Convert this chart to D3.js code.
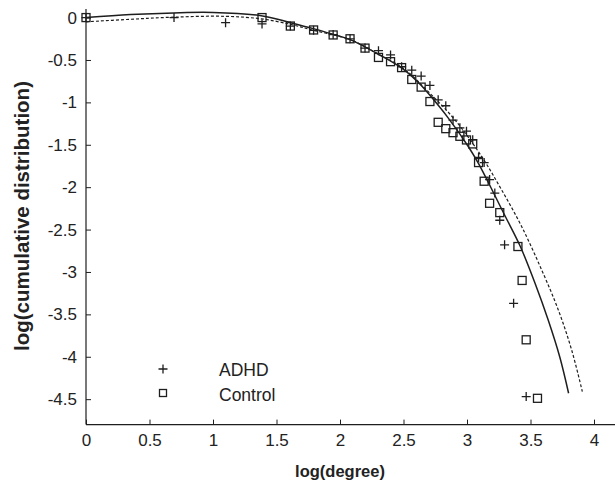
<!DOCTYPE html>
<html>
<head>
<meta charset="utf-8">
<script src="https://cdn.jsdelivr.net/npm/d3@7"></script>
<style>
  body { margin: 0; background: #fff; }
  svg { display: block; font-family: "Liberation Sans", Arial, sans-serif; }
  .tick text { fill: #222; font-size: 17px; }
  .title { font-weight: bold; fill: #222; }
</style>
</head>
<body>
<script>
var width = 615, height = 487;

// log(degree) values for each degree k (natural log)
var adhdX = [0, 0.693, 1.099, 1.386, 1.609, 1.792, 1.946, 2.079, 2.197, 2.303, 2.398, 2.485, 2.565,
             2.639, 2.708, 2.773, 2.833, 2.890, 2.944, 2.996, 3.045, 3.091, 3.135, 3.178, 3.219,
             3.258, 3.296, 3.367, 3.466];
var adhdY = [0, 0, -0.06, -0.075, -0.1, -0.15, -0.2, -0.25, -0.36, -0.39, -0.44, -0.58, -0.62,
             -0.69, -0.8, -0.97, -1.04, -1.21, -1.3, -1.34, -1.44, -1.65, -1.71, -1.91, -2.07,
             -2.39, -2.68, -3.37, -4.47];

var controlX = [0, 1.386, 1.609, 1.792, 1.946, 2.079, 2.197, 2.303, 2.398, 2.485, 2.565, 2.639,
                2.708, 2.773, 2.833, 2.890, 2.944, 2.996, 3.045, 3.091, 3.135, 3.178, 3.258,
                3.401, 3.434, 3.466, 3.555];
var controlY = [0, 0, -0.1, -0.146, -0.205, -0.25, -0.36, -0.47, -0.52, -0.59, -0.73, -0.82,
                -0.99, -1.235, -1.31, -1.357, -1.4, -1.443, -1.49, -1.71, -1.93, -2.19, -2.3,
                -2.7, -3.1, -3.8, -4.49];

// fitted curves
var fitSolidX = [0, 0.35, 0.69, 1.0, 1.39, 1.61, 1.79, 1.95, 2.08, 2.3, 2.5, 2.64, 2.71, 2.85,
                 3.01, 3.09, 3.19, 3.3, 3.42, 3.535, 3.64, 3.73, 3.8];
var fitSolidY = [0, 0.035, 0.055, 0.06, 0.02, -0.06, -0.13, -0.2, -0.26, -0.43, -0.61, -0.8, -0.92,
                 -1.18, -1.52, -1.72, -2.01, -2.34, -2.7, -3.13, -3.57, -4.0, -4.43];

var fitDashX = [0, 0.35, 0.69, 1.09, 1.38, 1.61, 1.79, 2.08, 2.3, 2.5, 2.695, 2.906, 3.116,
                3.273, 3.431, 3.588, 3.719, 3.824, 3.908];
var fitDashY = [-0.05, -0.02, 0.005, 0.015, -0.015, -0.08, -0.15, -0.26, -0.43, -0.6, -0.874, -1.208,
                -1.64, -2.033, -2.466, -2.976, -3.448, -3.92, -4.41];

var xTicks = [0, 0.5, 1, 1.5, 2, 2.5, 3, 3.5, 4];
var yTicks = [0, -0.5, -1, -1.5, -2, -2.5, -3, -3.5, -4, -4.5];
var legendNames = ["ADHD", "Control"];

var ink = "#1e1e1e";
var fmt = function(d){ return String(d); };   // plain hyphen minus, as in the figure

var x = d3.scaleLinear().domain([0, 4]).range([86, 594]);
var y = d3.scaleLinear().domain([0.1, -4.8]).range([9.1, 424.6]);

var svg = d3.select("body").append("svg")
    .attr("width", width)
    .attr("height", height);

// axes
var xAxis = svg.append("g")
    .attr("transform", "translate(0," + y(-4.8) + ")")
    .call(d3.axisBottom(x).tickValues(xTicks).tickSizeInner(-5).tickSizeOuter(0).tickPadding(9)
          .tickFormat(fmt));
xAxis.select(".domain").remove();
xAxis.selectAll(".tick line").attr("stroke", ink);

var yAxis = svg.append("g")
    .attr("transform", "translate(" + x(0) + ",0)")
    .call(d3.axisLeft(y).tickValues(yTicks).tickSizeInner(-5).tickSizeOuter(0).tickPadding(9)
          .tickFormat(fmt));
yAxis.select(".domain").remove();
yAxis.selectAll(".tick line").attr("stroke", ink);

svg.append("line")
   .attr("x1", x(0)).attr("x2", width)
   .attr("y1", y(-4.8)).attr("y2", y(-4.8))
   .attr("stroke", ink).attr("stroke-width", 1.2);
svg.append("line")
   .attr("x1", x(0)).attr("x2", x(0))
   .attr("y1", y(0.1)).attr("y2", y(-4.8))
   .attr("stroke", ink).attr("stroke-width", 1.2);

// axis titles
svg.append("text")
   .attr("class", "title")
   .attr("x", x(2)).attr("y", 477)
   .attr("text-anchor", "middle")
   .style("font-size", "16.5px")
   .text("log(degree)");

svg.append("text")
   .attr("class", "title")
   .attr("transform", "translate(29," + 216 + ") rotate(-90)")
   .attr("text-anchor", "middle")
   .style("font-size", "20.5px")
   .text("log(cumulative distribution)");

// fitted curves
var line = d3.line()
    .x(function(d){ return x(d[0]); })
    .y(function(d){ return y(d[1]); })
    .curve(d3.curveCatmullRom.alpha(0.5));

svg.append("path")
   .datum(d3.zip(fitSolidX, fitSolidY))
   .attr("d", line)
   .attr("fill", "none")
   .attr("stroke", ink)
   .attr("stroke-width", 1.5);

svg.append("path")
   .datum(d3.zip(fitDashX, fitDashY))
   .attr("d", line)
   .attr("fill", "none")
   .attr("stroke", ink)
   .attr("stroke-width", 1.2)
   .attr("stroke-dasharray", "3,2");

// markers
var plus = "M-4.5,0H4.5M0,-4.5V4.5";

svg.selectAll(".adhd")
   .data(d3.zip(adhdX, adhdY))
   .enter()
   .append("path")
   .attr("class", "adhd")
   .attr("d", plus)
   .attr("transform", function(d){ return "translate(" + x(d[0]) + "," + y(d[1]) + ")"; })
   .attr("stroke", ink)
   .attr("stroke-width", 1.3)
   .attr("fill", "none");

svg.selectAll(".control")
   .data(d3.zip(controlX, controlY))
   .enter()
   .append("rect")
   .attr("class", "control")
   .attr("x", function(d){ return x(d[0]) - 4; })
   .attr("y", function(d){ return y(d[1]) - 4; })
   .attr("width", 8)
   .attr("height", 8)
   .attr("stroke", ink)
   .attr("stroke-width", 1.3)
   .attr("fill", "none");

// legend
var legend = svg.append("g");
legend.append("path")
      .attr("d", plus)
      .attr("transform", "translate(163,369)")
      .attr("stroke", ink).attr("stroke-width", 1.3).attr("fill", "none");
legend.append("rect")
      .attr("x", 159.5).attr("y", 389.5).attr("width", 7).attr("height", 7)
      .attr("stroke", ink).attr("stroke-width", 1.3).attr("fill", "none");
legend.selectAll(".lbl")
      .data(legendNames)
      .enter()
      .append("text")
      .attr("class", "lbl")
      .attr("x", 219)
      .attr("y", function(d, i){ return 376 + i * 24.5; })
      .style("font-size", "17.5px")
      .style("fill", "#222")
      .text(function(d){ return d; });
</script>
</body>
</html>
